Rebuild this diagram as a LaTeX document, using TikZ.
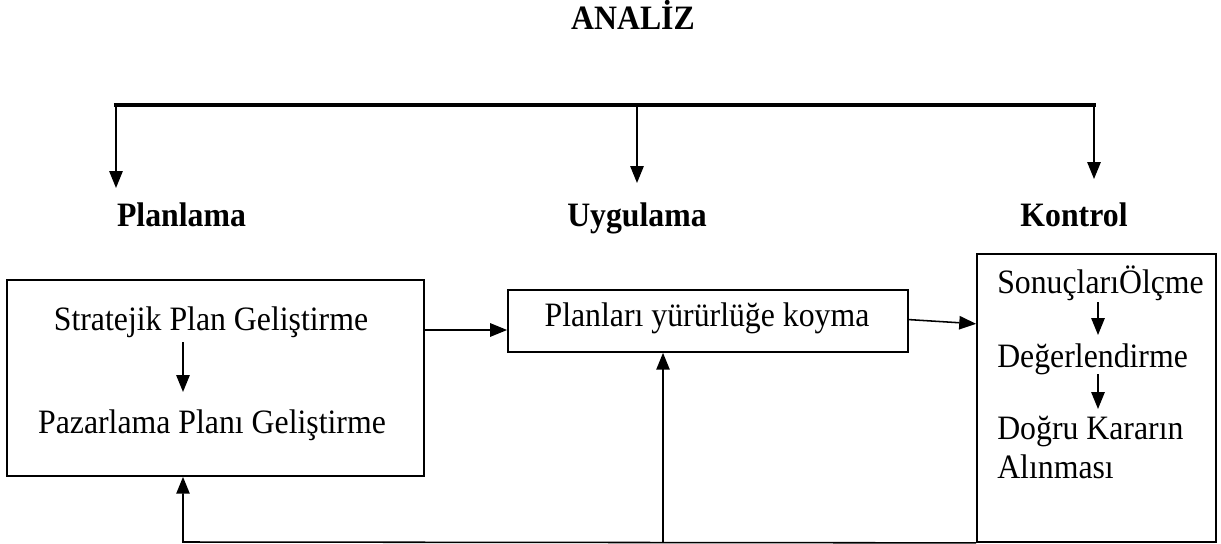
\documentclass[tikz,border=0pt]{standalone}
\usepackage{fontspec}
\setmainfont{Liberation Serif}[FakeStretch=0.93]
\usetikzlibrary{arrows.meta, positioning, calc}

\begin{document}
\begin{tikzpicture}[x=0.025cm, y=-0.025cm,
  every node/.style={font=\fontsize{24.3}{29}\selectfont, inner sep=0pt},
  txt/.style={anchor=base},
  lbl/.style={anchor=base, font=\fontsize{24.3}{29}\selectfont\bfseries},
  box/.style={draw, line width=1.2pt},
  arr/.style={-{Triangle[length=12pt,width=9.5pt]}, line width=1.1pt}]
  \useasboundingbox (0,0) rectangle (1221,544);

  % title and the three stages
  \node[lbl] (analiz) at (633,30) {ANALİZ};
  \node[lbl] (planlama) at (181.5,227) {Planlama};
  \node[lbl] (uygulama) at (637,227) {Uygulama};
  \node[lbl] (kontrol) at (1074,227) {Kontrol};

  \coordinate (barL) at (116,105);
  \coordinate (barM) at (637,105);
  \coordinate (barR) at (1094,105);
  \coordinate (tipL) at (116,188);
  \coordinate (tipM) at (637,183);
  \coordinate (tipR) at (1094,179);
  \draw[line width=3.2pt] ([xshift=-1.5pt]barL) -- ([xshift=1.5pt]barR);
  \draw[arr] (barL) -- (tipL);
  \draw[arr] (barM) -- (tipM);
  \draw[arr] (barR) -- (tipR);

  % boxes
  \node[box, minimum width=10.425cm, minimum height=4.9cm] (plan) at (215.5,378) {};
  \node[box, minimum width=10cm, minimum height=1.55cm] (uyg) at (708,321) {};
  \node[box, minimum width=5.975cm, minimum height=7.2cm] (kont) at (1096.5,398) {};

  % planlama box
  \node[txt] (strat) at (211,330) {Stratejik Plan Geliştirme};
  \node[txt] (pazar) at (212,433) {Pazarlama Planı Geliştirme};
  \coordinate (fb) at (183,542);
  \draw[arr] ($(strat.base -| fb)+(0,12)$) -- ($(pazar.base -| fb)+(0,-41)$);

  % uygulama box
  \node[txt] (yurur) at (707,326) {Planları yürürlüğe koyma};

  % kontrol box
  \node[txt, anchor=base west] (olcme) at (997,293) {SonuçlarıÖlçme};
  \node[txt, anchor=base west] (deger) at (997,367) {Değerlendirme};
  \node[txt, anchor=base west] (karar) at (997,439) {Doğru Kararın};
  \node[txt, anchor=base west] (alin) at (997,478) {Alınması};
  \coordinate (kx) at (1098,0);
  \draw[arr] ($(olcme.base -| kx)+(0,9)$) -- ($(deger.base -| kx)+(0,-32)$);
  \draw[arr] ($(deger.base -| kx)+(0,7)$) -- ($(karar.base -| kx)+(0,-30)$);

  % flow between boxes
  \draw[arr] (strat.base -| plan.east) -- (strat.base -| uyg.west);
  \draw[arr] ([yshift=1pt]uyg.east) -- ([yshift=-2pt]uyg.east -| kont.west);

  % feedback
  \coordinate (fbm) at (663,542);
  \draw[arr] (kont.south west) -- (fb) -- (plan.south -| fb);
  \draw[arr] (fbm) -- (fbm |- uyg.south);
\end{tikzpicture}
\end{document}
